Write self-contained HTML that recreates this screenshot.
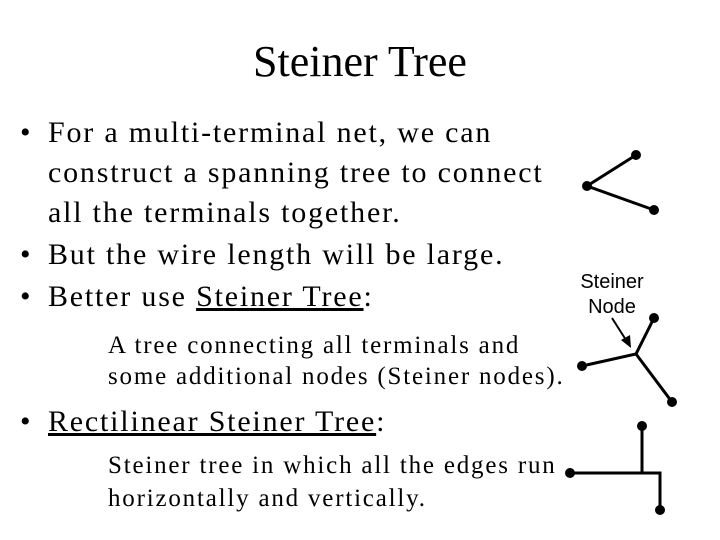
<!DOCTYPE html>
<html><head><style>
body{margin:0;width:720px;height:540px;background:#fff;position:relative;overflow:hidden;font-family:"Liberation Serif",serif;color:#000}
.t{position:absolute;white-space:nowrap}
.b{font-size:30px;line-height:40px;letter-spacing:1.8px}
.s{font-size:25px;line-height:31px;letter-spacing:1.8px}
</style></head><body>
<div class="t" style="left:0;width:720px;text-align:center;top:38px;font-size:44px;line-height:48px">Steiner Tree</div>
<div class="t b" style="left:20px;top:113px">•</div>
<div class="t b" style="left:48px;top:113px">For a multi-terminal net, we can<br>construct a spanning tree to connect<br>all the terminals together.</div>
<div class="t b" style="left:20px;top:235px">•</div>
<div class="t b" style="left:48px;top:235px">But the wire length will be large.</div>
<div class="t b" style="left:20px;top:277px">•</div>
<div class="t b" style="left:48px;top:277px">Better use <u>Steiner Tree</u>:</div>
<div class="t s" style="left:108px;top:330px">A tree connecting all terminals and<br>some additional nodes (Steiner nodes).</div>
<div class="t b" style="left:20px;top:402px">•</div>
<div class="t b" style="left:48px;top:402px"><u>Rectilinear Steiner Tree</u>:</div>
<div class="t s" style="left:108px;top:449px;line-height:33px">Steiner tree in which all the edges run<br>horizontally and vertically.</div>
<div class="t" style="left:560px;width:104px;text-align:center;top:270px;font-family:'Liberation Sans',sans-serif;font-size:20px;line-height:25px">Steiner<br>Node</div>
<svg width="720" height="540" style="position:absolute;left:0;top:0">
<g stroke="#000" stroke-width="3" fill="none">
<polyline points="636,155 587,186 654,210"/>
<line x1="582" y1="366" x2="636" y2="354"/>
<line x1="654" y1="318" x2="636" y2="354"/>
<line x1="636" y1="354" x2="672" y2="402"/>
<line x1="642" y1="426" x2="642" y2="473"/>
<polyline points="570,473 660,473 660,510"/>
<line x1="612" y1="318" x2="626" y2="340" stroke-width="2"/>
</g>
<polygon points="631,348 621,340 630,335" fill="#000"/>
<g fill="#000">
<circle cx="636" cy="155" r="5"/><circle cx="587" cy="186" r="5"/><circle cx="654" cy="210" r="5"/>
<circle cx="654" cy="318" r="5"/><circle cx="582" cy="366" r="5"/><circle cx="672" cy="402" r="5"/>
<circle cx="642" cy="426" r="5"/><circle cx="570" cy="473" r="5"/><circle cx="660" cy="510" r="5"/>
</g>
</svg>
</body></html>
